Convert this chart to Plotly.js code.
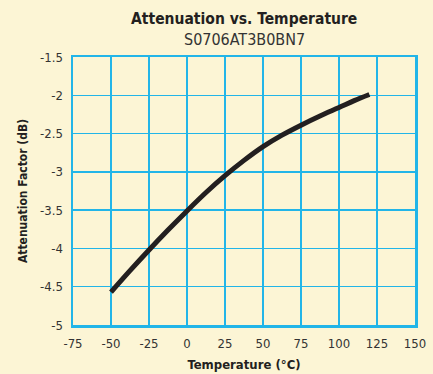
<!DOCTYPE html>
<html>
<head>
<meta charset="utf-8">
<script src="https://cdn.plot.ly/plotly-3.0.1.min.js"></script>
<style>html,body{margin:0;padding:0;background:#fcf5d5;}#chart{width:433px;height:374px;}</style>
</head>
<body>
<div id="chart"></div>
<script>
const temperature = [-50, -37.5, -25, -12.5, 0, 12.5, 25, 37.5, 50, 62.5, 75, 87.5, 100, 110, 120];
const attenuation = [-4.57, -4.29, -4.02, -3.76, -3.51, -3.27, -3.05, -2.85, -2.67, -2.52, -2.39, -2.27, -2.16, -2.07, -1.99];
const xTicks = [-75, -50, -25, 0, 25, 50, 75, 100, 125, 150];
const yTicks = [-5, -4.5, -4, -3.5, -3, -2.5, -2, -1.5];
const titleText = "Attenuation vs. Temperature";
const subtitleText = "S0706AT3B0BN7";
const xTitle = "Temperature (°C)";
const yTitle = "Attenuation Factor (dB)";

const font = "Liberation Sans Narrow, DejaVu Sans Condensed, Arial Narrow, sans-serif";
const grid = "#22b5e8";

const trace = {
  x: temperature, y: attenuation, type: "scatter", mode: "lines",
  line: {color: "#231f20", width: 5, shape: "spline"}, hoverinfo: "skip"
};

const layout = {
  width: 433, height: 374,
  margin: {l: 73, r: 18, t: 57, b: 49},
  paper_bgcolor: "#fcf5d5", plot_bgcolor: "#fcf5d5",
  showlegend: false,
  font: {family: font, color: "#333333", size: 13},
  xaxis: {
    range: [-75, 150], tickvals: xTicks, ticktext: xTicks.map(String),
    showgrid: true, gridcolor: grid, gridwidth: 1.5,
    showline: true, linecolor: grid, linewidth: 2.5, mirror: true,
    zeroline: false, ticks: "", ticklabelstandoff: 5,
    tickfont: {family: font, size: 13, color: "#333333"},
    title: {text: "<b>" + xTitle + "</b>", font: {family: font, size: 13, color: "#231f20"}, standoff: 10}
  },
  yaxis: {
    range: [-5, -1.5], tickvals: yTicks, ticktext: yTicks.map(String),
    showgrid: true, gridcolor: grid, gridwidth: 1.5,
    showline: true, linecolor: grid, linewidth: 2.5, mirror: true,
    zeroline: false, ticks: "", ticklabelstandoff: 5,
    tickfont: {family: font, size: 13, color: "#333333"},
    title: {text: "<b>" + yTitle + "</b>", font: {family: font, size: 12, color: "#231f20"}, standoff: 10}
  },
  annotations: [
    {text: "<b>" + titleText + "</b>", xref: "paper", yref: "paper", x: 0.5, y: 1, yshift: 49,
     showarrow: false, font: {family: font, size: 15.5, color: "#231f20"}},
    {text: subtitleText, xref: "paper", yref: "paper", x: 0.5, y: 1, yshift: 29,
     showarrow: false, font: {family: font, size: 16, color: "#333333"}}
  ]
};

Plotly.newPlot("chart", [trace], layout, {displayModeBar: false, staticPlot: true});
</script>
</body>
</html>
